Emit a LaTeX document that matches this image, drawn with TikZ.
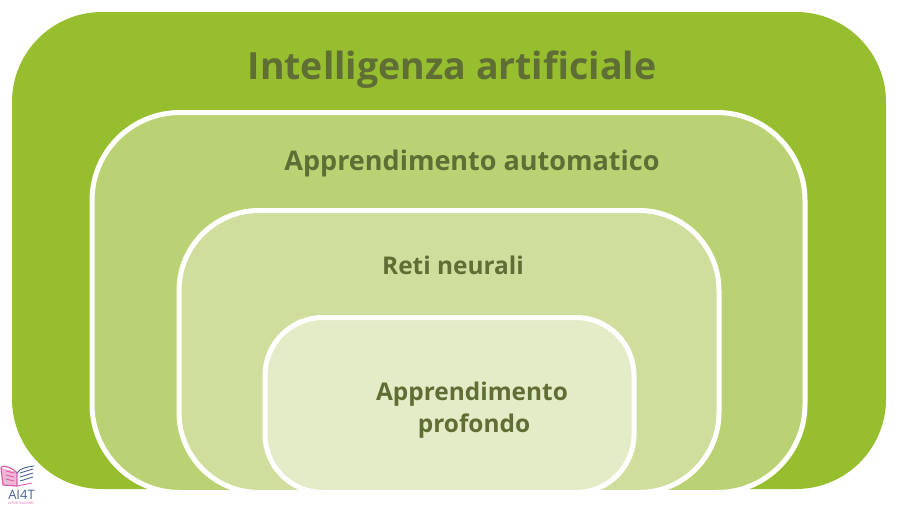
\documentclass[tikz,border=0pt]{standalone}
\usepackage{fontspec}
\setmainfont{Open Sans}
\usepackage{xcolor}
\definecolor{areagreen}{HTML}{97BE2F}
\definecolor{mlgreen}{HTML}{BBD274}
\definecolor{netgreen}{HTML}{D0DE9D}
\definecolor{deepgreen}{HTML}{E4EBC7}
\definecolor{labelgreen}{HTML}{5F6E34}
\definecolor{bookpink}{HTML}{DC5FA6}
\definecolor{bookblue}{HTML}{4A6296}

\begin{document}
\begin{tikzpicture}[
    x=1pt, y=-1pt,
    area/.style={
        rectangle,
        draw=white,
        line width=5pt,
        inner sep=0pt
    },
    title/.style={
        text=labelgreen,
        align=center,
        inner sep=0pt
    },
    bookline/.style={
        line width=0.9pt,
        line cap=round
    }
]
\useasboundingbox (0,0) rectangle (912,507);

\node[area, draw=none, fill=areagreen, rounded corners=90pt, minimum width=874pt, minimum height=477pt] (ai) at (449,250.5) {};
\node[area, fill=mlgreen, rounded corners=88pt, minimum width=713pt, minimum height=380pt] (ml) at (448.5,302.5) {};
\node[area, fill=netgreen, rounded corners=80pt, minimum width=540pt, minimum height=282pt] (nn) at (449,351.5) {};
\node[area, fill=deepgreen, rounded corners=58pt, minimum width=369pt, minimum height=175pt] (dl) at (449.5,405) {};

\node[title, font=\fontsize{37.5}{44}\selectfont\bfseries] (aitext) at (452,70) {Intelligenza artificiale};
\node[title, font=\fontsize{27}{30}\selectfont\bfseries] (mltext) at (472,163) {Apprendimento automatico};
\node[title, font=\fontsize{24.4}{28}\selectfont\bfseries] (nntext) at (453,265) {Reti neurali};
\node[title, font=\fontsize{24.4}{32}\selectfont\bfseries] (dltext) at (472,410) {Apprendimento\\\hspace*{4pt}profondo};

% logo
\node[inner sep=0pt, text=bookblue, font=\fontsize{13}{14}\selectfont] (logotext) at (21.5,495) {AI4T};
\node[inner sep=0pt, text=bookpink, font=\fontsize{3.2}{3}\selectfont] (logosub) at (21,503) {AI FOR TEACHERS};
\fill[bookpink!45] (1,468) -- (17,472) -- (17,486) -- (3,485) -- cycle;
\draw[bookpink, line width=1.2pt, line join=round] (3,466) -- (1,468) -- (3,485) -- (17,486) -- (17,473) .. controls (13,468) and (8,467) .. (3,466);
\foreach \ypos in {471,475,479} {
    \draw[bookline, bookpink] (6,\ypos) -- (14,\ypos+2);
}
\draw[bookline, bookblue] (17,473) .. controls (20,468) and (27,467) .. (34,466);
\foreach \ypos in {471,475,479} {
    \draw[bookline, bookblue] (20,\ypos+2) -- (33,\ypos-2);
}
\draw[bookline, bookpink] (17,486) -- (32,483);

\end{tikzpicture}
\end{document}
